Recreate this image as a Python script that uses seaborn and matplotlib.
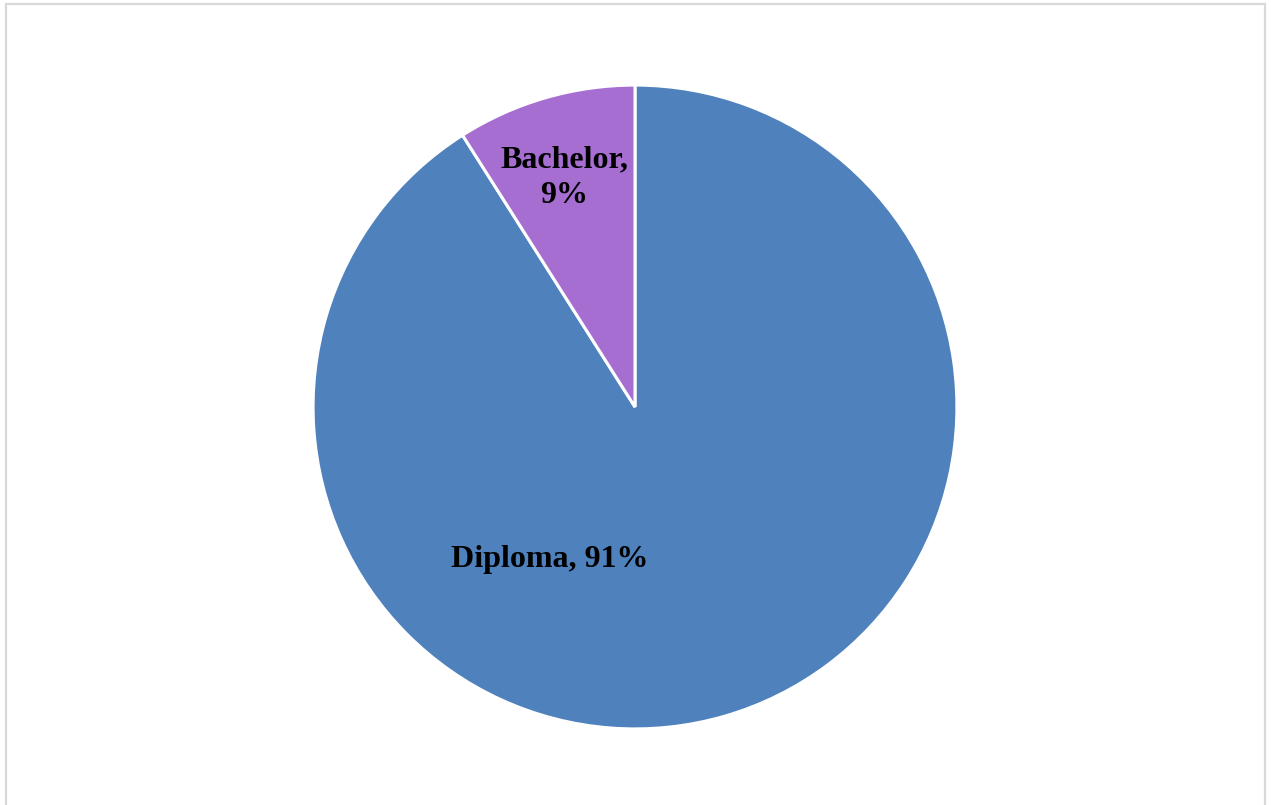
import matplotlib
matplotlib.use("Agg")
import matplotlib.pyplot as plt
from matplotlib.patches import Rectangle
import seaborn as sns

# Share of qualifications
categories = ["Diploma", "Bachelor"]
shares = [91, 9]
slice_colors = ["#4F81BD", "#A66ED1"]

sns.set_theme(style="white")
plt.rcParams["font.family"] = ["Liberation Serif", "DejaVu Serif"]

W, H = 1271, 805
fig = plt.figure(figsize=(W / 100, H / 100), dpi=100)
fig.patch.set_facecolor("white")

# Chart frame
fig.add_artist(Rectangle((5.5 / W, -0.05), (1264.5 - 5.5) / W, 1 - 4.5 / H + 0.05,
                         transform=fig.transFigure, fill=False,
                         edgecolor="#D9D9D9", linewidth=1.6))

cx, cy, r = 635, 805 - 407, 320
ax = fig.add_axes([(cx - r) / W, (cy - r) / H, 2 * r / W, 2 * r / H])
wedges, _ = ax.pie(shares, colors=slice_colors, startangle=90, counterclock=False,
                   radius=1.006, wedgeprops=dict(edgecolor="white", linewidth=2.2))
ax.set_xlim(-1, 1)
ax.set_ylim(-1, 1)
ax.set_aspect("equal")
ax.axis("off")

label_pos = {"Diploma": (-0.266, -0.478), "Bachelor": (-0.222, 0.718)}
label_text = {"Diploma": "Diploma, {}%", "Bachelor": "Bachelor,\n{}%"}
for cat, val in zip(categories, shares):
    x, y = label_pos[cat]
    ax.text(x, y, label_text[cat].format(val), ha="center", va="center",
            fontsize=23, fontweight="bold", color="black", linespacing=1.3)

fig.savefig("out.png", dpi=100, facecolor="white")
